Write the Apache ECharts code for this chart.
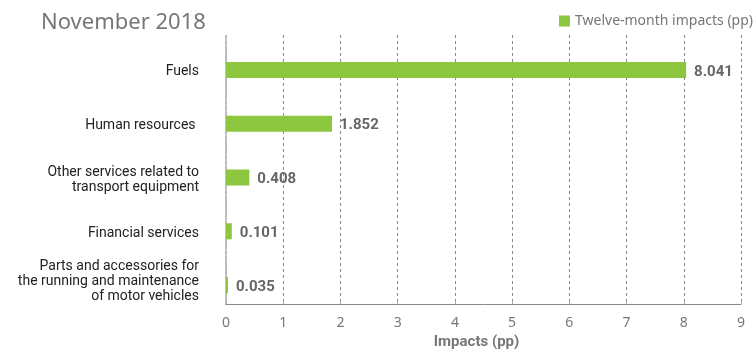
<!DOCTYPE html>
<html>
<head>
<meta charset="utf-8">
<script src="https://cdn.jsdelivr.net/npm/echarts@6/dist/echarts.min.js"></script>
<style>
  html, body { margin: 0; padding: 0; background: #fff; }
  #chart { width: 753px; height: 355px; }
</style>
</head>
<body>
<div id="chart"></div>
<script>
// categories listed bottom to top (category y axis starts at the bottom)
const categories = [
  'Parts and accessories for\nthe running and maintenance\nof motor vehicles',
  'Financial services',
  'Other services related to\ntransport equipment',
  'Human resources ',
  'Fuels'
];
const impacts = [0.035, 0.101, 0.408, 1.852, 8.041];
const xTicks = [0, 1, 2, 3, 4, 5, 6, 7, 8, 9];

const chart = echarts.init(document.getElementById('chart'));

function categoryLabel(v) {
  const lines = v.split('\n').map((l) => '{a|' + l + '}');
  // the three-line label sits a little higher in the original
  if (lines.length === 3) lines.push('{e| }');
  return lines.join('\n');
}

const option = {
  animation: false,
  title: {
    text: 'November 2018',
    left: 36,
    top: 7,
    textStyle: { fontFamily: 'Noto Sans', fontSize: 22, fontWeight: 'normal', color: '#777' }
  },
  legend: {
    data: ['Twelve-month impacts (pp)'],
    left: 554,
    top: 9,
    itemWidth: 11,
    itemHeight: 11,
    icon: 'rect',
    itemGap: 8,
    textStyle: { fontFamily: 'Noto Sans', fontSize: 14, color: '#777' }
  },
  grid: { left: 226, right: 12, top: 35, bottom: 44 },
  xAxis: {
    type: 'value',
    min: xTicks[0],
    max: xTicks[xTicks.length - 1],
    interval: 1,
    name: 'Impacts (pp)',
    nameLocation: 'middle',
    nameGap: 31,
    nameTextStyle: { fontFamily: 'Roboto', fontSize: 15, fontWeight: 'bold', color: '#777', padding: [0, 14, 0, 0] },
    axisLine: { show: true, lineStyle: { color: '#888', width: 1 } },
    axisTick: { show: true, length: 3, inside: true, lineStyle: { color: '#aaa' } },
    axisLabel: { fontFamily: 'Noto Sans', fontSize: 14, color: '#777', margin: 12 },
    splitLine: { show: true, lineStyle: { color: '#888', type: [3, 3], width: 1 } }
  },
  yAxis: {
    type: 'category',
    data: categories,
    axisLine: { show: true, lineStyle: { color: '#bbb', type: [3, 2], width: 2 } },
    axisTick: { show: false },
    axisLabel: {
      interval: 0,
      hideOverlap: false,
      margin: 27,
      padding: [20, 0, 0, 0],
      formatter: categoryLabel,
      rich: {
        a: { fontFamily: 'Roboto', fontSize: 14, color: '#222', lineHeight: 15 },
        e: { fontSize: 1, lineHeight: 12 }
      }
    }
  },
  series: [
    {
      // spacer so the real bars sit slightly below each band centre
      name: 'spacer',
      type: 'bar',
      data: categories.map(() => null),
      barWidth: 16,
      barGap: '0%',
      silent: true
    },
    {
      name: 'Twelve-month impacts (pp)',
      type: 'bar',
      data: impacts,
      barWidth: 16,
      barGap: '0%',
      itemStyle: { color: '#8dc63f' },
      label: {
        show: true,
        position: 'right',
        distance: 8,
        formatter: (p) => p.value.toFixed(3),
        fontFamily: 'Roboto',
        fontSize: 15,
        fontWeight: 'bold',
        color: '#666',
        offset: [0, 2]
      }
    }
  ]
};

chart.setOption(option);
</script>
</body>
</html>
